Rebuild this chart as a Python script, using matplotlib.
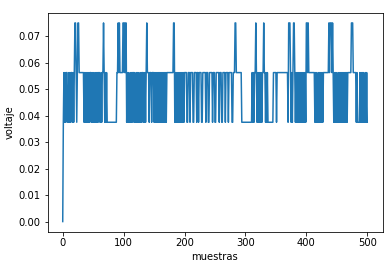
import numpy as np
import matplotlib
matplotlib.use("Agg")
import matplotlib.pyplot as plt

# Quantized voltage levels
level_values = [0.0, 0.0375, 0.05625, 0.075]

# Sequence of level indices (one digit per sample), read segment by segment
level_segments = [
    "0",
    "121212211212122121",
    "233212332",
    "2222222",
    "1212121121" "2212121121" "2121221121" "2",
    "232",
    "121211",
    "11111111111111",
    "22",
    "3232",
    "2222",
    "332323",
    "1212112121" "2212112121" "2112122121" "212",
    "3",
    "22212221222",
    "1212121212" "1212121212" "12",
    "2222222222",
    "33",
    "1212121211" "2121212",
    "2221122212" "2221122221" "2212222112" "2222122211" "2222212221"
    "1222221222" "1122221222" "2122222112" "22",
    "33",
    "222222222",
    "1111111111111111",
    "1212122321" "2121212122" "3221212",
    "111111111",
    "22222122222",
    "2222222222222",
    "1333212123" "3212121212" "1212112121" "3323",
    "2222222222",
    "121211212121212",
    "22222222",
    "32333232",
    "1212121121" "2121121212" "121",
    "22222233322222",
    "1211112121" "212112121",
]

codes = "".join(level_segments)
voltaje = np.array([level_values[int(c)] for c in codes])
muestras = np.arange(len(voltaje))

fig = plt.figure(figsize=(392 / 72, 265 / 72), dpi=72)
ax = fig.add_axes([47.5 / 392, 1 - 231.5 / 265, (382.5 - 47.5) / 392, (231.5 - 13) / 265])
ax.plot(muestras, voltaje, color="#1f77b4", linewidth=1.5)
ax.set_xlabel("muestras", fontsize=10)
ax.set_ylabel("voltaje", fontsize=10)
ax.tick_params(labelsize=10)
ax.set_yticks([0.0, 0.01, 0.02, 0.03, 0.04, 0.05, 0.06, 0.07])
ax.set_xticks([0, 100, 200, 300, 400, 500])
fig.savefig("out.png", dpi=72)
